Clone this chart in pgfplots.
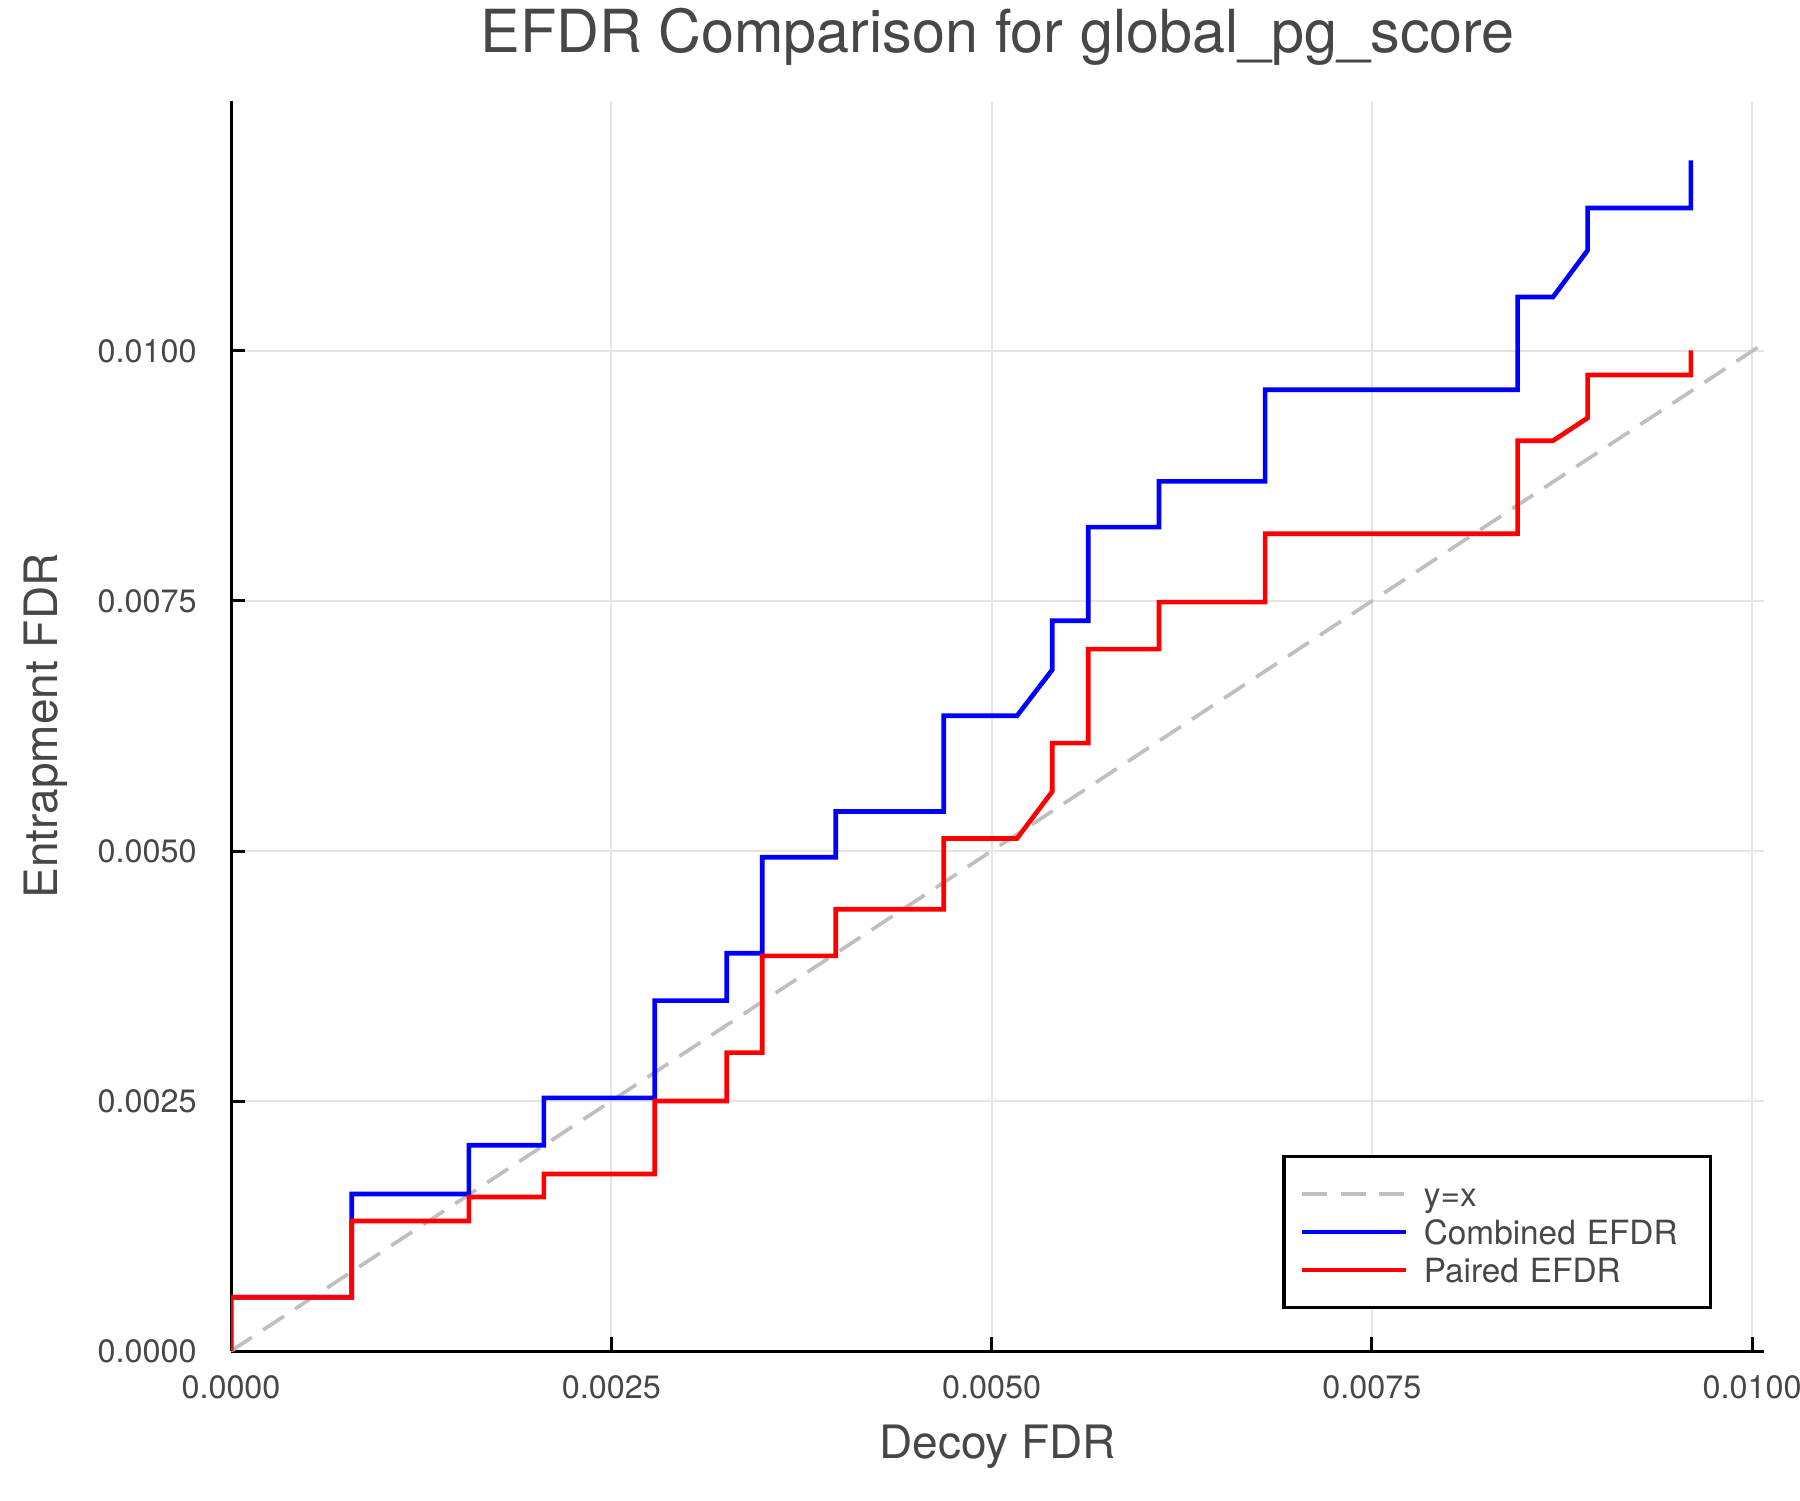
\documentclass[border=0pt]{standalone}
\usepackage{fontspec}
\setmainfont{TeX Gyre Heros}
\usepackage{pgfplots}
\pgfplotsset{compat=1.18}

\definecolor{txt}{HTML}{474747}
\definecolor{diag}{HTML}{BFBFBF}

\begin{document}
\begin{tikzpicture}
\useasboundingbox (0,0) rectangle (540pt,450pt);
\begin{axis}[
    at={(69.3pt,44.7pt)}, anchor=south west,
    scale only axis,
    width=460pt, height=375pt,
    xmin=0, xmax=0.01008,
    ymin=0, ymax=0.0125,
    axis x line*=bottom, axis y line*=left,
    axis line style={black, line width=0.9pt},
    tick align=inside,
    major tick length=4.3pt,
    tick style={black, line width=0.9pt},
    xtick={0,0.0025,0.005,0.0075,0.01},
    ytick={0,0.0025,0.005,0.0075,0.01},
    xticklabels={0.0000,0.0025,0.0050,0.0075,0.0100},
    yticklabels={0.0000,0.0025,0.0050,0.0075,0.0100},
    scaled ticks=false,
    /pgf/number format/assume math mode=true,
    ticklabel style={font=\fontsize{9.7}{11}\selectfont, text=txt},
    xticklabel style={yshift=-3.8pt},
    yticklabel style={xshift=-6.8pt},
    grid=major,
    major grid style={black!10, line width=0.6pt},
    title={EFDR Comparison for global\_pg\_score},
    title style={font=\fontsize{17.8}{20}\selectfont, text=txt,
        at={(axis description cs:0.5,1)}, anchor=base, yshift=8.4pt},
    xlabel={Decoy FDR},
    xlabel style={font=\fontsize{13.8}{16}\selectfont, text=txt,
        at={(axis description cs:0.5,0)}, anchor=base, yshift=-32.1pt},
    ylabel={Entrapment FDR},
    ylabel style={font=\fontsize{13.8}{16}\selectfont, text=txt,
        at={(axis description cs:0,0.5)}, anchor=base, yshift=52.1pt},
    legend cell align=left,
    legend image code/.code={\draw[#1] (0pt,3.6pt) -- (31pt,3.6pt);},
    legend style={
        at={(0.966,0.0336)}, anchor=south east,
        draw=black, line width=1pt, fill=white,
        font=\fontsize{10}{12}\selectfont, text=txt,
        inner xsep=4.8pt, inner ysep=5.4pt,
        row sep=-0.3pt, column sep=0pt,
        nodes={inner xsep=4.8pt, inner ysep=0pt, text height=9.5pt,
            text depth=2.2pt, text width=76.4pt, align=left, anchor=base west},
    },
]

% y = x reference
\addplot[diag, line width=1.1pt, dash pattern=on 7.5pt off 4pt] coordinates {
    (0,0) (0.01008,0.01008)
};
\addlegendentry{y=x}

% Combined EFDR
\addplot[blue, line width=1.4pt] coordinates {
    (0,0) (0,0.000537) (0.000794,0.000537) (0.000794,0.00157)
    (0.001564,0.00157) (0.001564,0.002058) (0.002057,0.002058) (0.002057,0.002531)
    (0.002786,0.002531) (0.002786,0.003504) (0.003259,0.003504) (0.003259,0.003978)
    (0.003492,0.003978) (0.003492,0.004938) (0.003976,0.004938) (0.003976,0.005395)
    (0.004686,0.005395) (0.004686,0.006352) (0.005167,0.006352) (0.005399,0.006812)
    (0.005399,0.007302) (0.005635,0.007302) (0.005635,0.008239) (0.0061,0.008239)
    (0.0061,0.008696) (0.006798,0.008696) (0.006798,0.009613) (0.008458,0.009613)
    (0.008458,0.01054) (0.008691,0.01054) (0.008918,0.011006) (0.008918,0.01143)
    (0.009597,0.01143) (0.009597,0.011907)
};
\addlegendentry{Combined EFDR}

% Paired EFDR
\addplot[red, line width=1.4pt] coordinates {
    (0,0) (0,0.000537) (0.000794,0.000537) (0.000794,0.0013)
    (0.001564,0.0013) (0.001564,0.00154) (0.002057,0.00154) (0.002057,0.00177)
    (0.002786,0.00177) (0.002786,0.0025) (0.003259,0.0025) (0.003259,0.002984)
    (0.003492,0.002984) (0.003492,0.003951) (0.003976,0.003951) (0.003976,0.004418)
    (0.004686,0.004418) (0.004686,0.005125) (0.005167,0.005125) (0.005399,0.005595)
    (0.005399,0.006079) (0.005635,0.006079) (0.005635,0.007019) (0.0061,0.007019)
    (0.0061,0.007489) (0.006798,0.007489) (0.006798,0.008172) (0.008458,0.008172)
    (0.008458,0.009103) (0.008691,0.009103) (0.008918,0.00933) (0.008918,0.00976)
    (0.009597,0.00976) (0.009597,0.010006)
};
\addlegendentry{Paired EFDR}

\end{axis}
\end{tikzpicture}
\end{document}
